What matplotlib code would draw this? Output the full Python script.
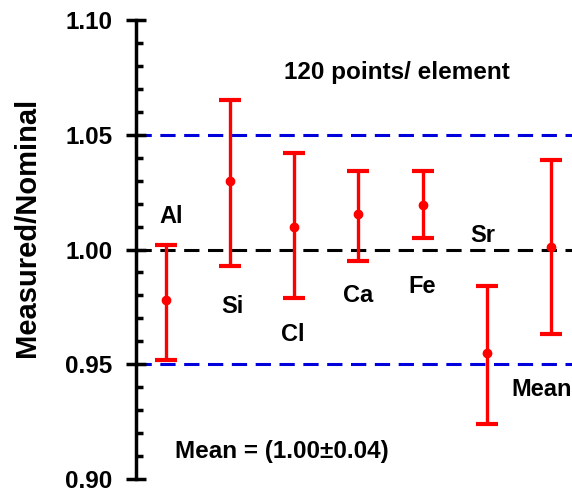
import matplotlib
matplotlib.use("Agg")
import matplotlib.pyplot as plt
from matplotlib.ticker import MultipleLocator

plt.rcParams['font.family'] = ['Liberation Sans', 'DejaVu Sans']
plt.rcParams['font.weight'] = 'bold'

elements = ['Al', 'Si', 'Cl', 'Ca', 'Fe', 'Sr', 'Mean']
values = [0.978, 1.030, 1.010, 1.0155, 1.0195, 0.955, 1.001]
upper = [1.002, 1.065, 1.042, 1.034, 1.034, 0.984, 1.039]
lower = [0.952, 0.993, 0.979, 0.995, 1.005, 0.924, 0.963]
label_x = [1.08, 2.04, 2.98, 4.0, 5.0, 5.94, 6.86]
label_y = [1.0145, 0.975, 0.963, 0.980, 0.984, 1.006, 0.939]

xs = list(range(1, len(elements) + 1))
err_lo = [v - l for v, l in zip(values, lower)]
err_hi = [u - v for v, u in zip(values, upper)]

fig = plt.figure(figsize=(5.72, 4.95), dpi=100)
ax = fig.add_axes([0.2378, 0.0323, 0.7622, 0.9273])

dash = (0, (5, 2.8))
ax.axhline(1.05, color='#0000dd', ls=dash, lw=2.2, zorder=1)
ax.axhline(0.95, color='#0000dd', ls=dash, lw=2.2, zorder=1)
ax.axhline(1.00, color='black', ls=dash, lw=2.2, zorder=1)

ax.errorbar(xs, values, yerr=[err_lo, err_hi], fmt='o', color='red',
            ms=6, elinewidth=2.4, capsize=8, capthick=3, zorder=3)

for name, x, y in zip(elements, label_x, label_y):
    ax.text(x, y, name, ha='center', va='center', fontsize=17, fontweight='bold')

ax.text(4.6, 1.077, '120 points/ element', ha='center', va='center',
        fontsize=17.5, fontweight='bold')
ax.text(2.81, 0.912, 'Mean = (1.00\u00b10.04)', ha='center', va='center',
        fontsize=17.5, fontweight='bold')

ax.set_xlim(0.53, 7.33)
ax.set_ylim(0.90, 1.10)
ax.yaxis.set_major_locator(MultipleLocator(0.05))
ax.yaxis.set_minor_locator(MultipleLocator(0.01))
ax.set_yticklabels([f'{t:.2f}' for t in ax.get_yticks()])
ax.tick_params(axis='y', which='major', direction='inout', length=14, width=2.5,
               labelsize=17.5, pad=10)
ax.tick_params(axis='y', which='minor', direction='in', length=5, width=2.5)
ax.set_xticks([])
ax.set_ylabel('Measured/Nominal', fontsize=21, fontweight='bold')
ax.yaxis.set_label_coords(-0.218, 0.549)

for side in ['top', 'right', 'bottom']:
    ax.spines[side].set_visible(False)
ax.spines['left'].set_linewidth(2.5)

fig.savefig('out.png', dpi=100)
